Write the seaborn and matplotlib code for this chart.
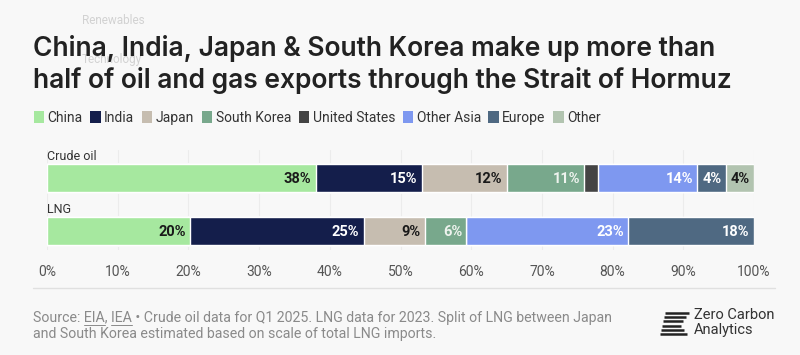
import pandas as pd
import seaborn as sns
from matplotlib import pyplot as plt
from matplotlib.patches import Patch
from matplotlib.lines import Line2D
from matplotlib.font_manager import FontProperties

# Share of exports through the Strait of Hormuz, by destination (%)
fuels = ['Crude oil', 'LNG']
regions = ['China', 'India', 'Japan', 'South Korea', 'United States', 'Other Asia', 'Europe', 'Other']
crude_oil = [38, 15, 12, 11, 2, 14, 4, 4]
lng = [20.2, 24.6, 8.6, 5.9, 0, 22.9, 17.8, 0]
colors = ['#a6e89f', '#141e4b', '#c6bdb0', '#78a88c', '#444444', '#7e98f0', '#4f6982', '#b2c4b0']
label_colors = ['#1a1a1a', 'white', '#1a1a1a', '#eef3ee', 'white', 'white', 'white', '#1a1a1a']
ticks = list(range(0, 101, 10))

df = pd.DataFrame({'Crude oil': crude_oil, 'LNG': lng}, index=regions)
cum = df.cumsum()

sns.set_theme(style='white')
plt.rcParams['font.family'] = ['Roboto', 'DejaVu Sans']
bg = '#f8f8f8'

fig = plt.figure(figsize=(8, 3.55), dpi=100, facecolor=bg)
ax = fig.add_axes([47 / 800, 1 - 250 / 355, 707 / 800, 100 / 355])
ax.set_facecolor(bg)

# stacked bars: draw cumulative totals back to front
for i in reversed(range(len(regions))):
    sns.barplot(x=cum.iloc[i].values, y=fuels, color=colors[i], orient='h', width=0.53,
                saturation=1, edgecolor='white', linewidth=1, ax=ax, zorder=3)

for j, fuel in enumerate(fuels):
    for i, region in enumerate(regions):
        v = df.loc[region, fuel]
        if v >= 3:
            ax.text(cum.loc[region, fuel] - 0.6, j + 0.02, f'{v:.0f}%', ha='right', va='center',
                    fontsize=10.5, fontweight='bold', color=label_colors[i], zorder=5)
    ax.text(0, j - 0.40, fuel, ha='left', va='center', fontsize=9, color='#333333')

ax.set_xlim(0, 100)
ax.set_ylim(1.358, -0.528)
ax.set_xticks(ticks)
ax.set_xticklabels([f'{t}%' for t in ticks], color='#555555', fontsize=10)
ax.tick_params(axis='x', length=0, pad=11)
ax.set_yticks([])
ax.set_xlabel('')
ax.set_ylabel('')
ax.grid(axis='x', color='#ececec', lw=0.8, zorder=0)
sns.despine(ax=ax, left=True, bottom=True)

# ghost menu text from the page behind
fig.text(82 / 800, 1 - 20 / 355, 'Renewables', fontsize=8.5, color='#d2d2d2', va='center', zorder=0)
fig.text(82 / 800, 1 - 59 / 355, 'Technology', fontsize=8.5, color='#d2d2d2', va='center', zorder=0)

title_font = ['Inter', 'DejaVu Sans']
fig.text(33 / 800, 1 - 48 / 355, 'China, India, Japan & South Korea make up more than',
         fontsize=19, fontweight='semibold', family=title_font, color='#222222', va='center', zorder=2)
fig.text(33 / 800, 1 - 80 / 355, 'half of oil and gas exports through the Strait of Hormuz',
         fontsize=19, fontweight='semibold', family=title_font, color='#222222', va='center', zorder=2)

handles = [Patch(facecolor=c, edgecolor='none') for c in colors]
fig.legend(handles, regions, loc='center left', bbox_to_anchor=(28 / 800, 1 - 118 / 355),
           ncol=len(regions), frameon=False, handlelength=0.75, handleheight=1.0,
           handletextpad=0.25, columnspacing=0.55, fontsize=10, labelcolor='#333333',
           borderaxespad=0)

fig.add_artist(Line2D([33 / 800, 775 / 800], [1 - 288 / 355] * 2, color='#e0e0e0', lw=1))

src1 = 'Source: EIA, IEA • Crude oil data for Q1 2025. LNG data for 2023. Split of LNG between Japan'
src2 = 'and South Korea estimated based on scale of total LNG imports.'
src_size = 10.2
fig.text(33 / 800, 1 - 322 / 355, src1, fontsize=src_size, color='#8a8a8a', va='baseline')
fig.text(33 / 800, 1 - 338 / 355, src2, fontsize=src_size, color='#8a8a8a', va='baseline')

# underline the linked sources
fig.canvas.draw()
renderer = fig.canvas.get_renderer()
prop = FontProperties(family=['Roboto', 'DejaVu Sans'], size=src_size)
def text_w(s):
    return renderer.get_text_width_height_descent(s, prop, ismath=False)[0]
for prefix, word in [('Source: ', 'EIA'), ('Source: EIA, ', 'IEA')]:
    x0 = 33 + text_w(prefix)
    x1 = x0 + text_w(word)
    fig.add_artist(Line2D([x0 / 800, x1 / 800], [1 - 324.5 / 355] * 2, color='#8a8a8a', lw=0.7))

# logo
logo_rows = [(665, 689), (664, 686), (663, 683), (662, 681), (661, 684), (660, 687)]
for k, (xa, xb) in enumerate(logo_rows):
    yy = 1 - (313 + k * 4.2) / 355
    fig.add_artist(Line2D([xa / 800, xb / 800], [yy, yy], color='#222222', lw=1.8, solid_capstyle='butt'))
fig.text(694 / 800, 1 - 315 / 355, 'Zero Carbon', fontsize=10.5, color='#333333', va='center')
fig.text(694 / 800, 1 - 330 / 355, 'Analytics', fontsize=10.5, color='#333333', va='center')

fig.savefig('out.png', dpi=100, facecolor=bg)
